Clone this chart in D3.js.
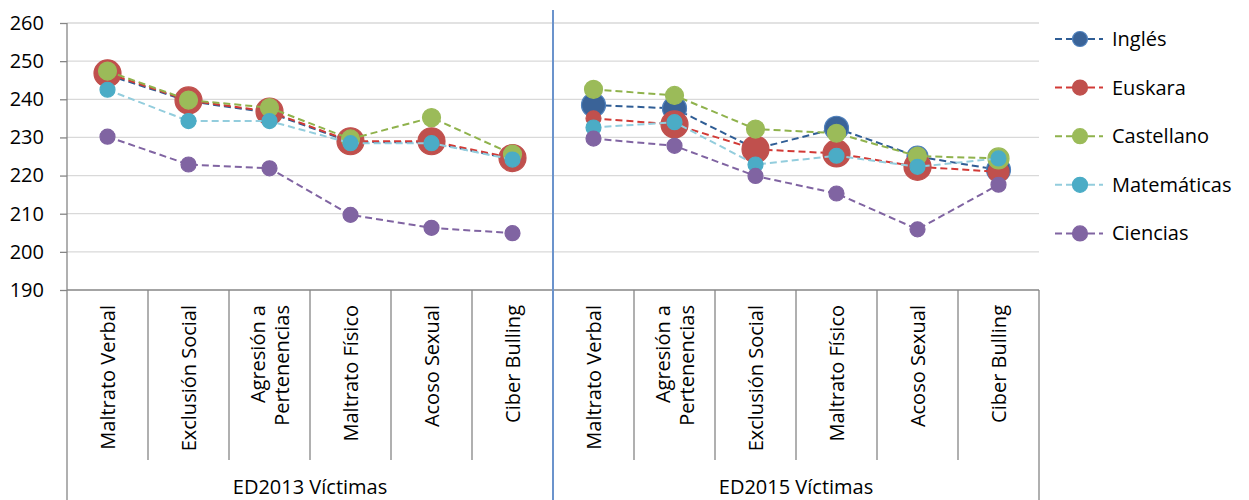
<!DOCTYPE html>
<html><head><meta charset="utf-8">
<script src="https://cdn.jsdelivr.net/npm/d3@7"></script>
<style>
html,body{margin:0;padding:0;background:#fff;}
svg{display:block;font-family:"Open Sans",sans-serif;}
</style></head>
<body><svg id="c" width="1249" height="500"></svg>
<script>
// ---- data ----
const groups = ["ED2013 Víctimas", "ED2015 Víctimas"];
const categories2013 = ["Maltrato Verbal", "Exclusión Social", "Agresión a|Pertenencias", "Maltrato Físico", "Acoso Sexual", "Ciber Bulling"];
const categories2015 = ["Maltrato Verbal", "Agresión a|Pertenencias", "Exclusión Social", "Maltrato Físico", "Acoso Sexual", "Ciber Bulling"];
const seriesNames = ["Inglés", "Euskara", "Castellano", "Matemáticas", "Ciencias"];
const yTicks = [190, 200, 210, 220, 230, 240, 250, 260];

const ingles2013      = [246.4, 239.5, 236.5, 228.8, 228.7, 224.3];
const ingles2015      = [238.5, 237.6, 227.0, 232.4, 225.0, 221.5];
const euskara2013     = [246.8, 239.7, 236.8, 229.0, 229.0, 224.6];
const euskara2015     = [235.0, 233.4, 226.9, 225.8, 222.3, 221.0];
const castellano2013  = [247.4, 239.8, 237.8, 229.6, 235.2, 225.6];
const castellano2015  = [242.6, 241.0, 232.2, 231.1, 225.1, 224.5];
const matematicas2013 = [242.5, 234.3, 234.3, 228.5, 228.5, 224.2];
const matematicas2015 = [232.6, 234.0, 222.9, 225.2, 222.3, 224.5];
const ciencias2013    = [230.2, 222.9, 221.9, 209.7, 206.3, 204.9];
const ciencias2015    = [229.7, 227.8, 219.9, 215.3, 205.9, 217.6];

// marker weight (bubble-like emphasis per point)
const inglesW2013      = [3, 3, 3, 3, 3, 3];
const inglesW2015      = [4, 4, 3, 4, 3, 4];
const euskaraW2013     = [5, 5, 5, 5, 5, 5];
const euskaraW2015     = [1, 5, 5, 5, 5, 3];
const castellanoW2013  = [2, 2, 2, 2, 2, 2];
const castellanoW2015  = [2, 2, 2, 2, 2, 3];
const matematicasW2013 = [1, 1, 1, 1, 1, 1];
const matematicasW2015 = [1, 1, 1, 1, 1, 1];
const cienciasW2013    = [1, 1, 1, 1, 1, 1];
const cienciasW2015    = [1, 1, 1, 1, 1, 1];

// ---- styles ----
const styles = {
  "Inglés":      {fill: "#3A6398", stroke: "#4F81BD", line: "#2F5D95"},
  "Euskara":     {fill: "#C0504D", stroke: "#C0504D", line: "#D23A36"},
  "Castellano":  {fill: "#9BBB59", stroke: "#9BBB59", line: "#8FB24C"},
  "Matemáticas": {fill: "#4BACC6", stroke: "#4BACC6", line: "#93CDDD"},
  "Ciencias":    {fill: "#8064A2", stroke: "#8064A2", line: "#8064A2"}
};

const seriesData = [
  {name: "Inglés",      v: [ingles2013, ingles2015],           w: [inglesW2013, inglesW2015]},
  {name: "Euskara",     v: [euskara2013, euskara2015],         w: [euskaraW2013, euskaraW2015]},
  {name: "Castellano",  v: [castellano2013, castellano2015],   w: [castellanoW2013, castellanoW2015]},
  {name: "Matemáticas", v: [matematicas2013, matematicas2015], w: [matematicasW2013, matematicasW2015]},
  {name: "Ciencias",    v: [ciencias2013, ciencias2015],       w: [cienciasW2013, cienciasW2015]}
];

const svg = d3.select("#c");
const pLeft = 67, pRight = 1039, pTop = 23, pBottom = 290;
const allCats = [...categories2013.map((c, i) => ({g: 0, i, c})), ...categories2015.map((c, i) => ({g: 1, i, c}))];
const keys = allCats.map(d => d.g + "-" + d.i);
const x = d3.scaleBand().domain(keys).range([pLeft, pRight]);
const y = d3.scaleLinear().domain([190, 260]).range([pBottom, pTop]);
const r = d3.scaleLinear().domain([1, 5]).range([7.5, 13.5]);
const fs = 20;

// grid
svg.append("g").selectAll("line").data(yTicks.filter(t => t > 190)).join("line")
  .attr("x1", pLeft).attr("x2", pRight).attr("y1", d => y(d)).attr("y2", d => y(d))
  .attr("stroke", "#D9D9D9").attr("stroke-width", 1.3);

// y axis
const yAxis = d3.axisLeft(y).tickValues(yTicks).tickSize(7).tickPadding(16);
const ya = svg.append("g").attr("transform", `translate(${pLeft},0)`).call(yAxis);
ya.select(".domain").remove();
ya.selectAll(".tick line").attr("stroke", "#868686").attr("stroke-width", 1.3);
ya.selectAll(".tick text").attr("font-size", fs).attr("fill", "#000").attr("font-family", "Open Sans");
svg.append("line").attr("x1", pLeft).attr("x2", pLeft).attr("y1", pTop).attr("y2", 500)
  .attr("stroke", "#868686").attr("stroke-width", 1.3);

// x axis line
svg.append("line").attr("x1", pLeft).attr("x2", pRight).attr("y1", pBottom).attr("y2", pBottom)
  .attr("stroke", "#868686").attr("stroke-width", 1.3);

// category separators
const bw = x.bandwidth();
svg.append("g").selectAll("line").data(keys).join("line")
  .attr("x1", d => x(d) + bw).attr("x2", d => x(d) + bw)
  .attr("y1", pBottom).attr("y2", d => (d.endsWith("-5")) ? 500 : 460)
  .attr("stroke", "#868686").attr("stroke-width", 1.3);

// category labels
const labG = svg.append("g").selectAll("text").data(allCats).join("text")
  .attr("transform", d => `translate(${x(d.g + "-" + d.i) + bw / 2},305) rotate(-90)`)
  .attr("text-anchor", "end").attr("font-size", fs).attr("fill", "#000");
labG.each(function(d) {
  const lines = d.c.split("|");
  const t = d3.select(this);
  const lh = 1.2;
  lines.forEach((ln, k) => {
    t.append("tspan").attr("x", 0)
      .attr("dy", k === 0 ? (0.35 - (lines.length - 1) * lh / 2) + "em" : lh + "em")
      .text(ln);
  });
});

// group labels
svg.append("g").selectAll("text").data(groups).join("text")
  .attr("x", (d, gi) => (x(gi + "-0") + x(gi + "-5") + bw) / 2)
  .attr("y", 494).attr("text-anchor", "middle").attr("font-size", fs).attr("fill", "#000")
  .text(d => d);

// blue divider
svg.append("line").attr("x1", x("1-0")).attr("x2", x("1-0")).attr("y1", 10).attr("y2", 500)
  .attr("stroke", "#6B93CC").attr("stroke-width", 2);

// series
const line = d3.line().x(d => d.x).y(d => d.y);
seriesData.forEach(s => {
  const st = styles[s.name];
  const g = svg.append("g");
  s.v.forEach((vals, gi) => {
    const pts = vals.map((v, i) => ({x: x(gi + "-" + i) + bw / 2, y: y(v), w: s.w[gi][i]}));
    g.append("path").attr("d", line(pts)).attr("fill", "none")
      .attr("stroke", st.line).attr("stroke-width", 2).attr("stroke-dasharray", "7,4");
    g.selectAll(null).data(pts).join("circle")
      .attr("cx", d => d.x).attr("cy", d => d.y).attr("r", d => r(d.w))
      .attr("fill", st.fill).attr("stroke", st.stroke).attr("stroke-width", 1.2);
  });
});

// legend
const lg = svg.append("g").selectAll("g").data(seriesNames).join("g")
  .attr("transform", (d, i) => `translate(1055,${39 + i * 48.6})`);
lg.append("line").attr("x1", 0).attr("x2", 48).attr("y1", 0).attr("y2", 0)
  .attr("stroke", d => styles[d].line).attr("stroke-width", 2).attr("stroke-dasharray", "7,4");
lg.append("circle").attr("cx", 25).attr("cy", 0).attr("r", 7.5)
  .attr("fill", d => styles[d].fill).attr("stroke", d => styles[d].stroke).attr("stroke-width", 1.2);
lg.append("text").attr("x", 57).attr("dy", "0.35em").attr("font-size", fs).attr("fill", "#000").text(d => d);
</script></body></html>
